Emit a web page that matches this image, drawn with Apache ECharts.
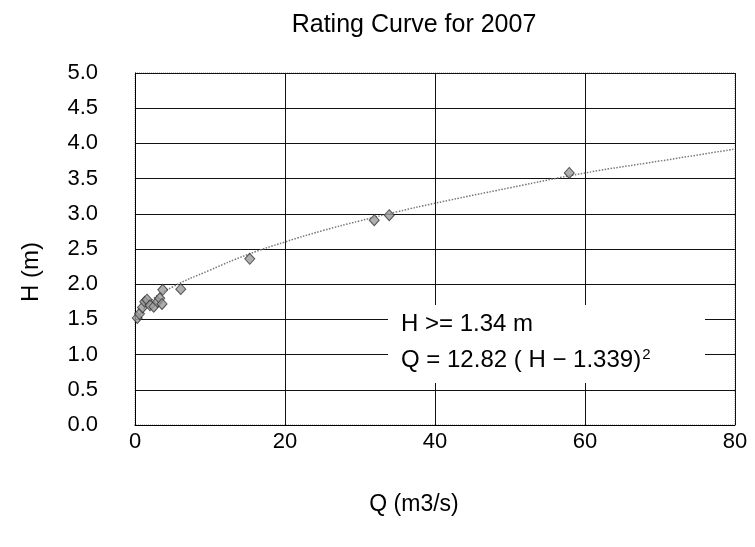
<!DOCTYPE html>
<html>
<head>
<meta charset="utf-8">
<script src="https://cdn.jsdelivr.net/npm/echarts@6/dist/echarts.min.js"></script>
<style>
  html, body { margin: 0; padding: 0; background: #fff; }
  #chart { width: 755px; height: 547px; }
</style>
</head>
<body>
<div id="chart"></div>
<script>
// Observed discharge (Q, m3/s) and stage (H, m) pairs
const obsQ = [0.3, 0.6, 1.0, 1.3, 1.6, 2.0, 2.5, 3.0, 3.3, 3.6, 3.7, 6.1, 15.3, 31.9, 33.9, 57.9];
const obsH = [1.52, 1.58, 1.67, 1.75, 1.78, 1.70, 1.68, 1.75, 1.80, 1.72, 1.92, 1.93, 2.36, 2.91, 2.98, 3.58];

// Fitted rating curve, sampled along Q
const curveQ = [0.3, 2, 5, 10, 15, 20, 25, 30, 35, 40, 50, 60, 70, 80];
const curveH = [1.50, 1.75, 1.96, 2.20, 2.42, 2.60, 2.76, 2.90, 3.03, 3.15, 3.37, 3.58, 3.75, 3.92];

// Axis tick settings
const xTicks = { min: 0, max: 80, step: 20 };
const yTicks = { min: 0, max: 5, step: 0.5 };

const FONT = 'Liberation Sans, Arial, sans-serif';

const chart = echarts.init(document.getElementById('chart'));
chart.setOption({
  backgroundColor: '#fff',
  animation: false,
  title: {
    text: 'Rating Curve for 2007',
    left: 409, top: 8, textAlign: 'center',
    textStyle: { fontFamily: FONT, fontSize: 25, fontWeight: 'normal', color: '#000' }
  },
  grid: {
    left: 135, right: 20, top: 73, bottom: 122,
    show: true, borderColor: '#999', borderWidth: 1, borderType: 'dotted'
  },
  xAxis: {
    type: 'value', min: xTicks.min, max: xTicks.max, interval: xTicks.step,
    name: 'Q (m3/s)', nameLocation: 'middle', nameGap: 68,
    nameTextStyle: { fontFamily: FONT, fontSize: 23, color: '#000', padding: [0, 42, 0, 0] },
    axisLine: { show: true, lineStyle: { color: '#000', width: 1 } },
    axisTick: { show: false },
    axisLabel: { fontFamily: FONT, fontSize: 22, color: '#000', margin: 6 },
    splitLine: { show: true, lineStyle: { color: '#111', width: 1 } }
  },
  yAxis: {
    type: 'value', min: yTicks.min, max: yTicks.max, interval: yTicks.step,
    name: 'H (m)', nameLocation: 'middle', nameGap: 92, nameRotate: 90,
    nameTextStyle: { fontFamily: FONT, fontSize: 24, color: '#000', padding: [0, 46, 0, 0] },
    axisLine: { show: true, lineStyle: { color: '#000', width: 1 } },
    axisTick: { show: false },
    axisLabel: { fontFamily: FONT, fontSize: 22, color: '#000', margin: 37,
      formatter: v => v.toFixed(1) },
    splitLine: { show: true, lineStyle: { color: '#111', width: 1 } }
  },
  series: [
    {
      type: 'line',
      data: curveQ.map((q, i) => [q, curveH[i]]),
      smooth: true, showSymbol: false, silent: true,
      lineStyle: { color: '#777', width: 1.5, type: 'dotted' },
      z: 3
    },
    {
      type: 'scatter',
      data: obsQ.map((q, i) => [q, obsH[i]]),
      symbol: 'diamond', symbolSize: [10, 11],
      itemStyle: { color: '#9a9a9a', borderColor: '#333', borderWidth: 1 },
      z: 4
    }
  ],
  graphic: [
    {
      type: 'rect', z: 10,
      shape: { x: 388, y: 305, width: 317, height: 78 },
      style: { fill: '#fff' }
    },
    {
      type: 'text', z: 11, left: 401, top: 312,
      style: { text: 'H >= 1.34 m', fontFamily: FONT, fontSize: 24, fill: '#000' }
    },
    {
      type: 'text', z: 11, left: 401, top: 347,
      style: {
        text: '{a|Q = 12.82 ( H − 1.339)}{s|2}',
        rich: {
          a: { fontFamily: FONT, fontSize: 24, color: '#000' },
          s: { fontFamily: FONT, fontSize: 15, color: '#000', verticalAlign: 'top', padding: [0, 0, 12, 1] }
        }
      }
    }
  ]
});
</script>
</body>
</html>
